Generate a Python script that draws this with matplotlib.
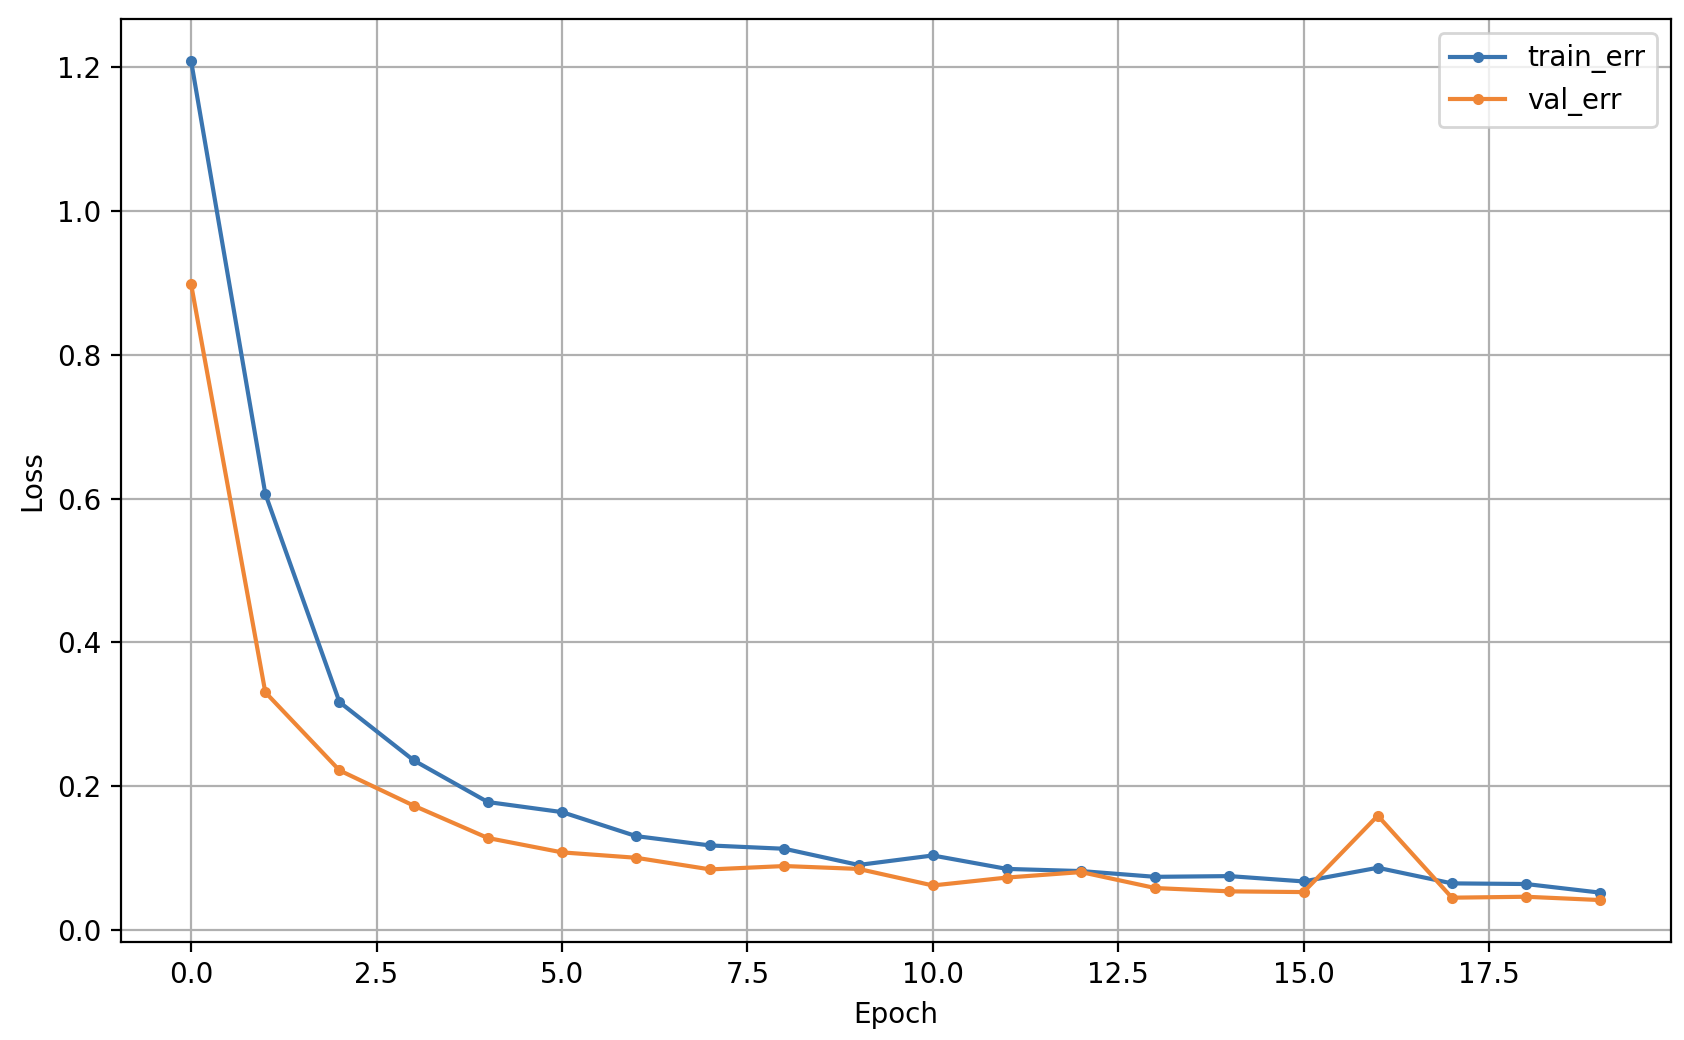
import matplotlib
matplotlib.use("Agg")
import matplotlib.pyplot as plt

epochs = list(range(20))
train_err = [1.208, 0.6065, 0.317, 0.236, 0.178, 0.164, 0.1306, 0.1176, 0.113, 0.0905,
             0.1037, 0.085, 0.082, 0.074, 0.075, 0.0676, 0.0866, 0.0649, 0.064, 0.052]
val_err = [0.8977, 0.3306, 0.222, 0.173, 0.128, 0.108, 0.1005, 0.0843, 0.089, 0.085,
           0.062, 0.073, 0.0806, 0.0584, 0.0538, 0.0528, 0.159, 0.045, 0.0463, 0.0417]

DPI = 200
fig = plt.figure(figsize=(1684 / DPI, 1040 / DPI), dpi=DPI)
ax = fig.add_axes([120.7 / 1684, 1 - 942 / 1040, (1670.7 - 120.7) / 1684, (942 - 19.3) / 1040])
ax.plot(epochs, train_err, marker='.', label='train_err', color='#3a75b0')
ax.plot(epochs, val_err, marker='.', label='val_err', color='#ef8636')
ax.set_xlabel('Epoch')
ax.set_ylabel('Loss')
ax.grid(True)
ax.legend(loc='upper right')
fig.savefig('out.png', dpi=DPI)
